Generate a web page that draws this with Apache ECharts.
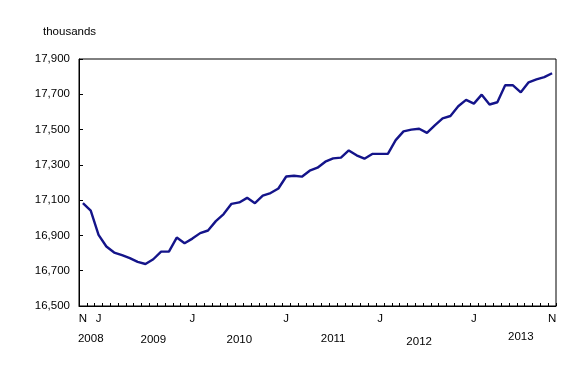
<!DOCTYPE html>
<html>
<head>
<meta charset="utf-8">
<script src="https://cdn.jsdelivr.net/npm/echarts@6/dist/echarts.min.js"></script>
<style>html,body{margin:0;padding:0;background:#fff;}#c{width:588px;height:380px;}</style>
</head>
<body>
<div id="c"></div>
<script>
const months = [
 'Nov 2008','Dec 2008',
 'Jan 2009','Feb 2009','Mar 2009','Apr 2009','May 2009','Jun 2009','Jul 2009','Aug 2009','Sep 2009','Oct 2009','Nov 2009','Dec 2009',
 'Jan 2010','Feb 2010','Mar 2010','Apr 2010','May 2010','Jun 2010','Jul 2010','Aug 2010','Sep 2010','Oct 2010','Nov 2010','Dec 2010',
 'Jan 2011','Feb 2011','Mar 2011','Apr 2011','May 2011','Jun 2011','Jul 2011','Aug 2011','Sep 2011','Oct 2011','Nov 2011','Dec 2011',
 'Jan 2012','Feb 2012','Mar 2012','Apr 2012','May 2012','Jun 2012','Jul 2012','Aug 2012','Sep 2012','Oct 2012','Nov 2012','Dec 2012',
 'Jan 2013','Feb 2013','Mar 2013','Apr 2013','May 2013','Jun 2013','Jul 2013','Aug 2013','Sep 2013','Oct 2013','Nov 2013'
];
const employment = [
 17083,17041,16903,16837,16803,16788,16771,16750,16738,16765,
 16808,16808,16888,16856,16882,16913,16928,16981,17021,17079,
 17087,17113,17083,17125,17140,17166,17234,17238,17233,17267,
 17284,17318,17337,17341,17382,17354,17335,17362,17362,17362,
 17440,17490,17500,17505,17481,17524,17564,17577,17632,17668,
 17647,17698,17642,17655,17751,17751,17711,17768,17784,17797,17819
];
const monthTickIndex = [0, 2, 14, 26, 38, 50, 60];
const monthTickText = ['N', 'J', 'J', 'J', 'J', 'J', 'N'];
const yearLabelIndex = [1, 9, 20, 32, 43, 56];
const yearLabels = ['2008', '2009', '2010', '2011', '2012', '2013'];
const yearLabelDrop = [3, 4, 4, 3, 6, 1];
const yMin = 16500, yMax = 17900, yStep = 200;
const unitLabel = 'thousands';

const font = 'Liberation Sans, Arial, sans-serif';
const yearRich = {};
yearLabelDrop.forEach((d, k) => {
  yearRich['y' + k] = {padding: [d, 0, 0, 0], fontFamily: font, fontSize: 11.5, color: '#000'};
});

const chart = echarts.init(document.getElementById('c'), null, {renderer: 'canvas'});
chart.setOption({
  animation: false,
  title: {
    text: unitLabel, left: 38, top: 21,
    textStyle: {fontFamily: font, fontSize: 11.5, fontWeight: 'normal', color: '#000'}
  },
  grid: {
    left: 79, right: 32, top: 59, bottom: 74,
    show: true, borderColor: '#000', borderWidth: 1, backgroundColor: 'transparent'
  },
  xAxis: [{
    type: 'category', data: months, boundaryGap: true,
    axisLine: {lineStyle: {color: '#000', width: 1}},
    axisTick: {show: true, inside: true, length: 3, interval: 0, lineStyle: {color: '#000'}},
    axisLabel: {
      margin: 7, fontFamily: font, fontSize: 11.5, color: '#000',
      interval: (i) => monthTickIndex.indexOf(i) >= 0,
      formatter: (v, i) => { const k = monthTickIndex.indexOf(i); return k >= 0 ? monthTickText[k] : ''; }
    },
    splitLine: {show: false}
  }, {
    type: 'category', data: months, boundaryGap: true, position: 'bottom',
    axisLine: {show: false}, axisTick: {show: false},
    axisLabel: {
      margin: 24, fontFamily: font, fontSize: 11.5, color: '#000',
      interval: (i) => yearLabelIndex.indexOf(i) >= 0,
      formatter: (v, i) => { const k = yearLabelIndex.indexOf(i); return k >= 0 ? '{y' + k + '|' + yearLabels[k] + '}' : ''; },
      rich: yearRich
    },
    splitLine: {show: false}
  }],
  yAxis: {
    type: 'value', min: yMin, max: yMax, interval: yStep,
    axisLine: {show: true, lineStyle: {color: '#000', width: 1}},
    axisTick: {show: true, inside: true, length: 4, lineStyle: {color: '#000'}},
    axisLabel: {
      margin: 9, fontFamily: font, fontSize: 11.5, color: '#000',
      formatter: (v) => v.toLocaleString('en-US')
    },
    splitLine: {show: false}
  },
  series: [{
    type: 'line', data: employment, xAxisIndex: 0,
    showSymbol: false, symbol: 'none',
    lineStyle: {color: '#14148a', width: 2.4},
    itemStyle: {color: '#14148a'}
  }]
});
</script>
</body>
</html>
